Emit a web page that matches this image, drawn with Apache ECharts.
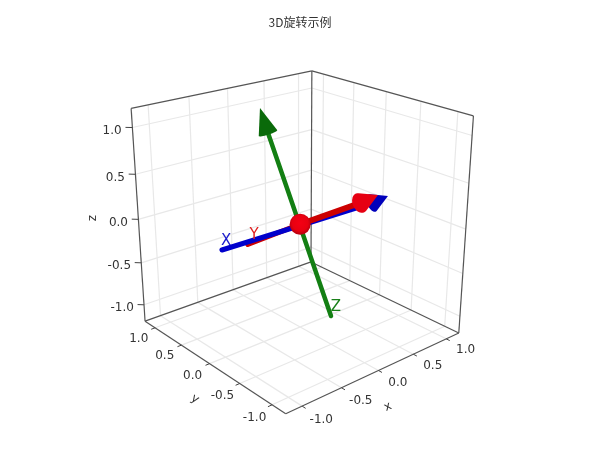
<!DOCTYPE html>
<html>
<head>
<meta charset="utf-8">
<script src="https://cdn.jsdelivr.net/npm/echarts@6/dist/echarts.min.js"></script>
<style>html,body{margin:0;background:#fff}#chart{width:600px;height:450px}</style>
</head>
<body>
<div id="chart"></div>
<script>
// chart data, all in the 3D data space of the plot
const axisLimit = 1.2;
const tickValues = [-1, -0.5, 0, 0.5, 1];
const tickLabels = ['-1.0', '-0.5', '0.0', '0.5', '1.0'];
const origin = [0, 0, 0];
const xStart = [-0.895, 0.149, -0.085], xBase = [0.850, -0.186, 0.076], xTip = [1.065, -0.210, 0.110];
const yStart = [-0.130, 0.729, -0.434], yBase = [0.134, -0.741, 0.420], yTip = [0.154, -0.964, 0.562];
const zStart = [0.068, -0.416, -0.925], zBase = [-0.050, 0.451, 0.887], zTip = [-0.091, 0.526, 1.144];
const xNamePos = [-0.842, 0.149, -0.002], yNamePos = [-0.109, 0.643, -0.298], zNamePos = [0.131, -0.422, -0.838];
const xAxisNamePos = [0.224, -1.136, -1.749], yAxisNamePos = [-1.273, 0.183, -1.672], zAxisNamePos = [-1.613, 1.409, 0.059];

// camera, same idea as mplot3d view_init
const scale = 116.093, zoomZ = 0.999, azim = 229.514, elev = 22.355, dist = 8.723, centerX = 300.167, centerY = 224.205;

const A = azim * Math.PI / 180, E = elev * Math.PI / 180;
const viewN = [Math.cos(E) * Math.cos(A), Math.cos(E) * Math.sin(A), Math.sin(E)];
const viewR = [-Math.sin(A), Math.cos(A), 0];
const viewU = [-Math.sin(E) * Math.cos(A), -Math.sin(E) * Math.sin(A), Math.cos(E)];
const dot = (a, b) => a[0] * b[0] + a[1] * b[1] + a[2] * b[2];

function project(p) {
  const w = [p[0] / axisLimit, p[1] / axisLimit, p[2] / axisLimit * zoomZ];
  const f = dist / (dist - dot(w, viewN));
  return [centerX + scale * f * dot(w, viewR), centerY - scale * f * dot(w, viewU)];
}
const seg = (a, b) => project(a).concat(project(b));
const L = axisLimit;

// grid on the three back panes
const gridSegs = [];
for (const t of tickValues) {
  gridSegs.push(seg([t, L, -L], [t, L, L]));    // left wall
  gridSegs.push(seg([-L, L, t], [L, L, t]));
  gridSegs.push(seg([L, t, -L], [L, t, L]));    // right wall
  gridSegs.push(seg([L, -L, t], [L, L, t]));
  gridSegs.push(seg([t, -L, -L], [t, L, -L]));  // floor
  gridSegs.push(seg([-L, t, -L], [L, t, -L]));
}
const boxSegs = [
  seg([-L, -L, -L], [L, -L, -L]), seg([-L, -L, -L], [-L, L, -L]),
  seg([L, L, -L], [-L, L, -L]), seg([L, L, -L], [L, -L, -L]),
  seg([L, L, -L], [L, L, L]), seg([-L, L, -L], [-L, L, L]), seg([L, -L, -L], [L, -L, L]),
  seg([-L, L, L], [L, L, L]), seg([L, -L, L], [L, L, L])
];
const tickSegs = [];
const tickLen = 0.05;
for (const t of tickValues) {
  tickSegs.push(seg([t, -L, -L], [t, -L - tickLen, -L]));
  tickSegs.push(seg([-L, t, -L], [-L - tickLen, t, -L]));
  tickSegs.push(seg([-L, L, t], [-L - tickLen, L + tickLen, t]));
}

// outline of a cone: tip plus a ring around the base, then convex hull
function coneOutline(base, tip, radius) {
  const d = [tip[0] - base[0], tip[1] - base[1], tip[2] - base[2]];
  const len = Math.sqrt(dot(d, d));
  const n = d.map(v => v / len);
  const ref = Math.abs(n[2]) < 0.9 ? [0, 0, 1] : [1, 0, 0];
  const cross = (a, b) => [a[1] * b[2] - a[2] * b[1], a[2] * b[0] - a[0] * b[2], a[0] * b[1] - a[1] * b[0]];
  let e1 = cross(n, ref);
  const l1 = Math.sqrt(dot(e1, e1));
  e1 = e1.map(v => v / l1);
  const e2 = cross(n, e1);
  const pts = [project(tip)];
  for (let i = 0; i < 36; i++) {
    const a = i / 36 * Math.PI * 2;
    pts.push(project([0, 1, 2].map(k => base[k] + radius * (Math.cos(a) * e1[k] + Math.sin(a) * e2[k]))));
  }
  pts.sort((p, q) => p[0] - q[0] || p[1] - q[1]);
  const side = (o, a, b) => (a[0] - o[0]) * (b[1] - o[1]) - (a[1] - o[1]) * (b[0] - o[0]);
  const half = list => {
    const h = [];
    for (const p of list) {
      while (h.length > 1 && side(h[h.length - 2], h[h.length - 1], p) <= 0) h.pop();
      h.push(p);
    }
    h.pop();
    return h;
  };
  return half(pts).concat(half(pts.slice().reverse())).flat();
}

function segSeries(segs, color, width, z, cap) {
  return {
    type: 'custom', coordinateSystem: 'cartesian2d', silent: true, clip: false, z: z,
    data: segs,
    encode: { x: [0, 2], y: [1, 3] },
    renderItem: (params, api) => {
      const a = api.coord([api.value(0), api.value(1)]), b = api.coord([api.value(2), api.value(3)]);
      return {
        type: 'line',
        shape: { x1: a[0], y1: a[1], x2: b[0], y2: b[1] },
        style: { stroke: color, lineWidth: width, lineCap: cap || 'butt', fill: null }
      };
    }
  };
}

function polySeries(outline, color, z) {
  return {
    type: 'custom', coordinateSystem: 'cartesian2d', silent: true, clip: false, z: z,
    data: [outline],
    encode: { x: 0, y: 1 },
    renderItem: (params, api) => {
      const points = [];
      for (let i = 0; i < outline.length; i += 2) points.push(api.coord([outline[i], outline[i + 1]]));
      return { type: 'polygon', shape: { points: points }, style: { fill: color } };
    }
  };
}

// texts: [3D position, string, color, font, align, rotation in degrees]
const texts = [];
const tickFont = '12px "DejaVu Sans"';
tickValues.forEach((t, i) => {
  texts.push([[t, -L - 0.27, -L - 0.015], tickLabels[i], '#333', tickFont, 'center', 0]);
  texts.push([[-L - 0.21, t, -L - 0.055], tickLabels[i], '#333', tickFont, 'center', 0]);
  texts.push([[-L - 0.08, L + 0.08, t - 0.04], tickLabels[i], '#333', tickFont, 'right', 0]);
});
texts.push([xAxisNamePos, 'x', '#333', tickFont, 'center', 25]);
texts.push([yAxisNamePos, 'y', '#333', tickFont, 'center', -33]);
texts.push([zAxisNamePos, 'z', '#333', tickFont, 'center', 90]);
const nameFont = '15px "DejaVu Sans"';
texts.push([xNamePos, 'X', '#1a1acc', nameFont, 'center', 0]);
texts.push([yNamePos, 'Y', '#e02020', nameFont, 'center', 0]);
texts.push([zNamePos, 'Z', '#1a801a', nameFont, 'center', 0]);

const textSeries = {
  type: 'custom', coordinateSystem: 'cartesian2d', silent: true, clip: false, z: 10,
  data: texts.map(t => project(t[0])),
  encode: { x: 0, y: 1 },
  renderItem: (params, api) => {
    const t = texts[params.dataIndex];
    const c = api.coord([api.value(0), api.value(1)]);
    return {
      type: 'text', x: c[0], y: c[1], rotation: t[5] * Math.PI / 180,
      style: { text: t[1], fill: t[2], font: t[3], align: t[4], verticalAlign: 'middle' }
    };
  }
};

const coneRadius = 0.1;
const myChart = echarts.init(document.getElementById('chart'));
myChart.setOption({
  animation: false,
  backgroundColor: '#fff',
  title: {
    text: '3D旋转示例', left: 'center', top: 11,
    textStyle: { fontFamily: '"Noto Sans CJK SC"', fontSize: 12, fontWeight: 'normal', color: '#333' }
  },
  grid: { left: 0, right: 0, top: 0, bottom: 0 },
  xAxis: { type: 'value', min: 0, max: 600, show: false },
  yAxis: { type: 'value', min: 0, max: 450, inverse: true, show: false },
  series: [
    segSeries(gridSegs, '#e8e8e8', 1.2, 1),
    segSeries(boxSegs, '#555', 1.2, 2),
    segSeries(tickSegs, '#444', 1, 2),
    segSeries([seg(yStart, origin)], '#cc0000', 5, 3, 'round'),
    segSeries([seg(xStart, xBase)], '#0000cc', 5, 4, 'round'),
    polySeries(coneOutline(xBase, xTip, coneRadius), '#0000bb', 4),
    segSeries([seg(zStart, zBase)], '#137f13', 4.5, 5, 'round'),
    polySeries(coneOutline(zBase, zTip, coneRadius), '#0a6a0a', 5),
    segSeries([seg(origin, yBase)], '#cc0000', 6, 6, 'round'),
    polySeries(coneOutline(yBase, yTip, coneRadius), '#e60012', 6),
    {
      type: 'scatter', silent: true, z: 7, symbolSize: 21,
      data: [project(origin)],
      itemStyle: {
        opacity: 1,
        color: {
          type: 'radial', x: 0.5, y: 0.45, r: 0.5,
          colorStops: [{ offset: 0, color: '#f40014' }, { offset: 0.75, color: '#e80010' }, { offset: 1, color: '#c00010' }]
        }
      }
    },
    textSeries
  ]
});
</script>
</body>
</html>
